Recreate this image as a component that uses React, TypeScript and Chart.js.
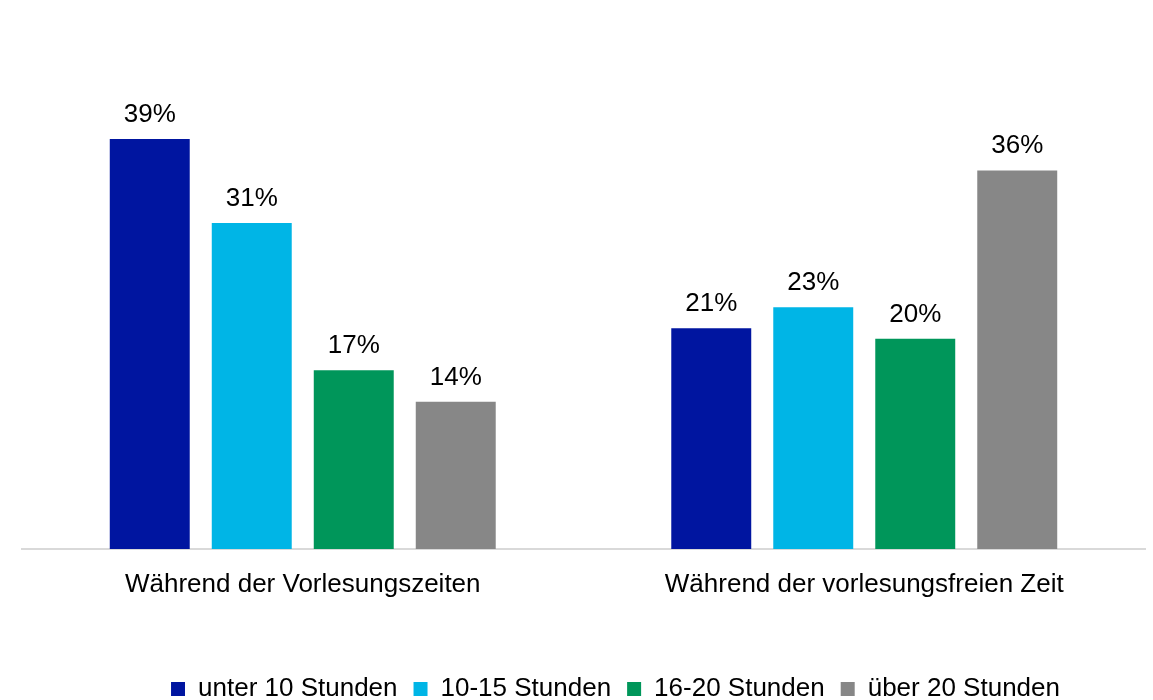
import React, { useEffect, useRef } from 'react';
import { Chart, registerables } from 'chart.js';

Chart.register(...registerables);

const categories = ['Während der Vorlesungszeiten', 'Während der vorlesungsfreien Zeit'];
const seriesNames = ['unter 10 Stunden', '10-15 Stunden', '16-20 Stunden', 'über 20 Stunden'];
const under10 = [39, 21];
const h10to15 = [31, 23];
const h16to20 = [17, 20];
const over20 = [14, 36];
const seriesValues = [under10, h10to15, h16to20, over20];
const seriesColors = ['#0015A0', '#00B5E6', '#00965A', '#878787'];

const FONT = "'Liberation Sans', Arial, sans-serif";

const valueLabels = {
  id: 'valueLabels',
  afterDatasetsDraw(chart: any) {
    const ctx = chart.ctx;
    ctx.save();
    ctx.font = `26px ${FONT}`;
    ctx.fillStyle = '#000';
    ctx.textAlign = 'center';
    ctx.textBaseline = 'alphabetic';
    chart.data.datasets.forEach((ds: any, i: number) => {
      const meta = chart.getDatasetMeta(i);
      meta.data.forEach((bar: any, j: number) => {
        ctx.fillText(`${ds.data[j]}%`, bar.x, bar.y - 17);
      });
    });
    ctx.restore();
  },
};

const legendShift = {
  id: 'legendShift',
  afterLayout(chart: any) {
    const lg = chart.legend;
    if (!lg) return;
    lg.left += 32;
    lg.right += 32;
    lg.top += 12;
    lg.bottom += 12;
  },
};

export default function App() {
  const ref = useRef<HTMLCanvasElement>(null);
  useEffect(() => {
    const chart = new Chart(ref.current as HTMLCanvasElement, {
      type: 'bar',
      data: {
        labels: categories,
        datasets: seriesNames.map((name, i) => ({
          label: name,
          data: seriesValues[i],
          backgroundColor: seriesColors[i],
          borderWidth: 0,
          barPercentage: 0.784,
          categoryPercentage: 0.7266,
        })),
      },
      options: {
        animation: false,
        responsive: false,
        maintainAspectRatio: false,
        layout: { padding: { left: 22, right: 8, top: 79, bottom: 0 } },
        scales: {
          x: {
            grid: { display: false, drawTicks: false },
            border: { display: true, color: '#D9D9D9', width: 2 },
            ticks: { color: '#000', font: { family: FONT, size: 26 }, padding: 20 },
            afterFit(scale: any) {
              scale.height = 99;
            },
          },
          y: { display: false, min: 0, max: 44.7 },
        },
        plugins: {
          tooltip: { enabled: false },
          legend: {
            position: 'bottom',
            labels: {
              color: '#000',
              font: { family: FONT, size: 26 },
              boxWidth: 14,
              boxHeight: 14,
              padding: 16,
            },
          },
        },
      },
      plugins: [valueLabels, legendShift],
    });
    return () => chart.destroy();
  }, []);
  return (
    <div style={{ position: 'fixed', left: 0, top: 0, width: 1153, height: 700, background: '#fff' }}>
      <canvas ref={ref} width={1153} height={700} style={{ width: 1153, height: 700 }} />
    </div>
  );
}
